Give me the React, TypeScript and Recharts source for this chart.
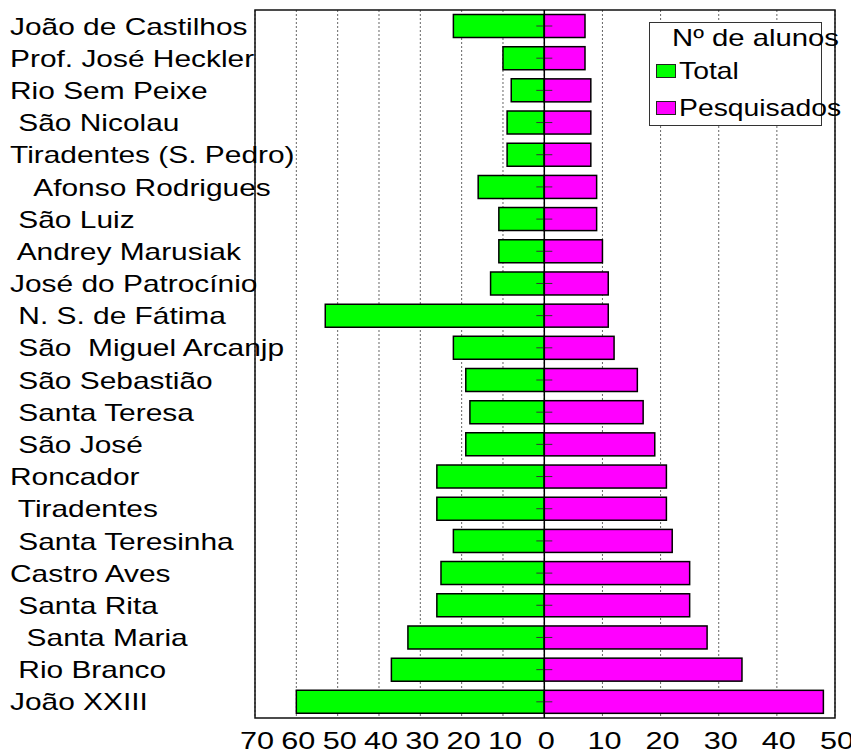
import React from 'react';
import {
  BarChart,
  Bar,
  XAxis,
  YAxis,
  CartesianGrid,
  ReferenceLine,
  ReferenceArea,
  Legend,
} from 'recharts';

// ---------- data ----------
const schools = [
  'João de Castilhos',
  'Prof. José Heckler',
  'Rio Sem Peixe',
  ' São Nicolau',
  'Tiradentes (S. Pedro)',
  '   Afonso Rodrigues',
  ' São Luiz',
  ' Andrey Marusiak',
  'José do Patrocínio',
  ' N. S. de Fátima',
  ' São  Miguel Arcanjp',
  ' São Sebastião',
  ' Santa Teresa',
  ' São José',
  'Roncador',
  ' Tiradentes',
  ' Santa Teresinha',
  'Castro Aves',
  ' Santa Rita',
  '  Santa Maria',
  ' Rio Branco',
  'João XXIII',
];

const totalStudents = [22, 10, 8, 9, 9, 16, 11, 11, 13, 53, 22, 19, 18, 19, 26, 26, 22, 25, 26, 33, 37, 60];
const surveyedStudents = [7, 7, 8, 8, 8, 9, 9, 10, 11, 11, 12, 16, 17, 19, 21, 21, 22, 25, 25, 28, 34, 48];

const xTicks = [-70, -60, -50, -40, -30, -20, -10, 0, 10, 20, 30, 40, 50];
const seriesNames = ['Total', 'Pesquisados'];
const legendTitle = 'Nº de alunos';

const data = schools.map((name, i) => ({
  name,
  total: -totalStudents[i],
  surveyed: surveyedStudents[i],
}));

const FONT = '"Liberation Sans", Arial, Helvetica, sans-serif';
const LEFT_SHARE = 0.4988; // share of the axis length used by the negative (Total) side

// piecewise-linear scale: negative side and positive side have their own unit length
function makeSplitScale(share: number): any {
  let dom: number[] = [xTicks[0], xTicks[xTicks.length - 1]];
  let rng: number[] = [0, 1];
  const s: any = (v: number) => {
    const d0 = dom[0];
    const d1 = dom[dom.length - 1];
    const r0 = rng[0];
    const r1 = rng[rng.length - 1];
    const rz = r0 + (r1 - r0) * share;
    if (v < 0) return rz + (v / d0) * (r0 - rz);
    return rz + (v / d1) * (r1 - rz);
  };
  s.domain = (d?: number[]) => {
    if (d === undefined) return dom.slice();
    dom = Array.from(d);
    return s;
  };
  s.range = (r?: number[]) => {
    if (r === undefined) return rng.slice();
    rng = Array.from(r);
    return s;
  };
  s.copy = () => makeSplitScale(share).domain(dom).range(rng);
  s.ticks = () => xTicks.slice();
  s.tickFormat = () => (v: number) => String(v);
  s.invert = (px: number) => {
    const d0 = dom[0];
    const d1 = dom[dom.length - 1];
    const r0 = rng[0];
    const r1 = rng[rng.length - 1];
    const rz = r0 + (r1 - r0) * share;
    if (px < rz) return ((px - rz) / (r0 - rz)) * d0;
    return ((px - rz) / (r1 - rz)) * d1;
  };
  s.clamp = () => s;
  s.nice = () => s;
  return s;
}

const splitScale = makeSplitScale(LEFT_SHARE);

// ---------- custom pieces ----------
const YTick = (props: any) => {
  const { y, payload } = props;
  return (
    <text
      transform={`translate(10,${y + 8.5}) scale(1.3,1)`}
      fontFamily={FONT}
      fontSize={23}
      fill="#000"
      style={{ whiteSpace: 'pre' }}
    >
      {payload.value}
    </text>
  );
};

const XTick = (props: any) => {
  const { x, y, payload } = props;
  return (
    <text
      transform={`translate(${x + 2},${y + 23}) scale(1.25,1)`}
      textAnchor="middle"
      fontFamily={FONT}
      fontSize={24.5}
      fill="#000"
    >
      {Math.abs(payload.value)}
    </text>
  );
};

const SurveyedShape = (props: any) => {
  const { x, y, width, height, fill } = props;
  const cy = y + height / 2;
  return (
    <g>
      <rect x={x} y={y} width={width} height={height} fill={fill} stroke="#000" strokeWidth={1.5} />
      <line x1={x - 8} x2={x + 8} y1={cy} y2={cy} stroke="#333" strokeWidth={1} />
    </g>
  );
};

const LegendBox = (props: any) => {
  const raw = props.payload || [];
  const payload = seriesNames
    .map((n) => raw.find((p: any) => p.value === n))
    .filter(Boolean);
  return (
    <div
      style={{
        width: 173,
        height: 104,
        boxSizing: 'border-box',
        border: '1.5px solid #333',
        background: '#fff',
        position: 'relative',
        fontFamily: FONT,
        fontSize: 24,
        lineHeight: '24px',
        color: '#000',
      }}
    >
      <div
        style={{
          position: 'absolute',
          left: 22,
          top: 3,
          transform: 'scaleX(1.22)',
          transformOrigin: '0 0',
          whiteSpace: 'pre',
        }}
      >
        {legendTitle}
      </div>
      {payload.map((p: any, i: number) => (
        <React.Fragment key={i}>
          <div
            style={{
              position: 'absolute',
              left: 6,
              top: 41 + i * 37,
              width: 18,
              height: 12,
              background: p.color,
              border: '1.5px solid #222',
            }}
          />
          <div
            style={{
              position: 'absolute',
              left: 29,
              top: 36 + i * 37,
              transform: 'scaleX(1.18)',
              transformOrigin: '0 0',
              whiteSpace: 'pre',
            }}
          >
            {p.value}
          </div>
        </React.Fragment>
      ))}
    </div>
  );
};

export default function App() {
  return (
    <div style={{ position: 'absolute', left: 0, top: 0, width: 851, height: 755, background: '#fff' }}>
      <BarChart
        width={851}
        height={755}
        data={data}
        layout="vertical"
        stackOffset="sign"
        barCategoryGap="14%"
        margin={{ top: 10, right: 16, bottom: 0, left: 0 }}
      >
        <CartesianGrid horizontal={false} stroke="#666" strokeDasharray="2 2" />
        <XAxis
          type="number"
          domain={[xTicks[0], xTicks[xTicks.length - 1]]}
          ticks={xTicks}
          scale={splitScale}
          interval={0}
          axisLine={false}
          tickLine={false}
          height={37}
          tick={<XTick />}
        />
        <YAxis
          type="category"
          dataKey="name"
          width={255}
          interval={0}
          axisLine={false}
          tickLine={false}
          tick={<YTick />}
        />
        <Bar
          dataKey="total"
          name={seriesNames[0]}
          stackId="s"
          fill="#00FF00"
          stroke="#000"
          strokeWidth={1.5}
          isAnimationActive={false}
        />
        <Bar
          dataKey="surveyed"
          name={seriesNames[1]}
          stackId="s"
          fill="#FF00FF"
          shape={<SurveyedShape />}
          isAnimationActive={false}
        />
        <ReferenceLine x={0} stroke="#000" strokeWidth={1.5} />
        <ReferenceArea
          x1={xTicks[0]}
          x2={xTicks[xTicks.length - 1]}
          fill="none"
          fillOpacity={0}
          stroke="#111"
          strokeWidth={1.5}
          ifOverflow="visible"
        />
        <Legend
          layout="vertical"
          align="center"
          verticalAlign="middle"
          content={<LegendBox />}
          wrapperStyle={{ position: 'absolute', left: 649, top: 22, width: 173, height: 104 }}
        />
      </BarChart>
    </div>
  );
}
